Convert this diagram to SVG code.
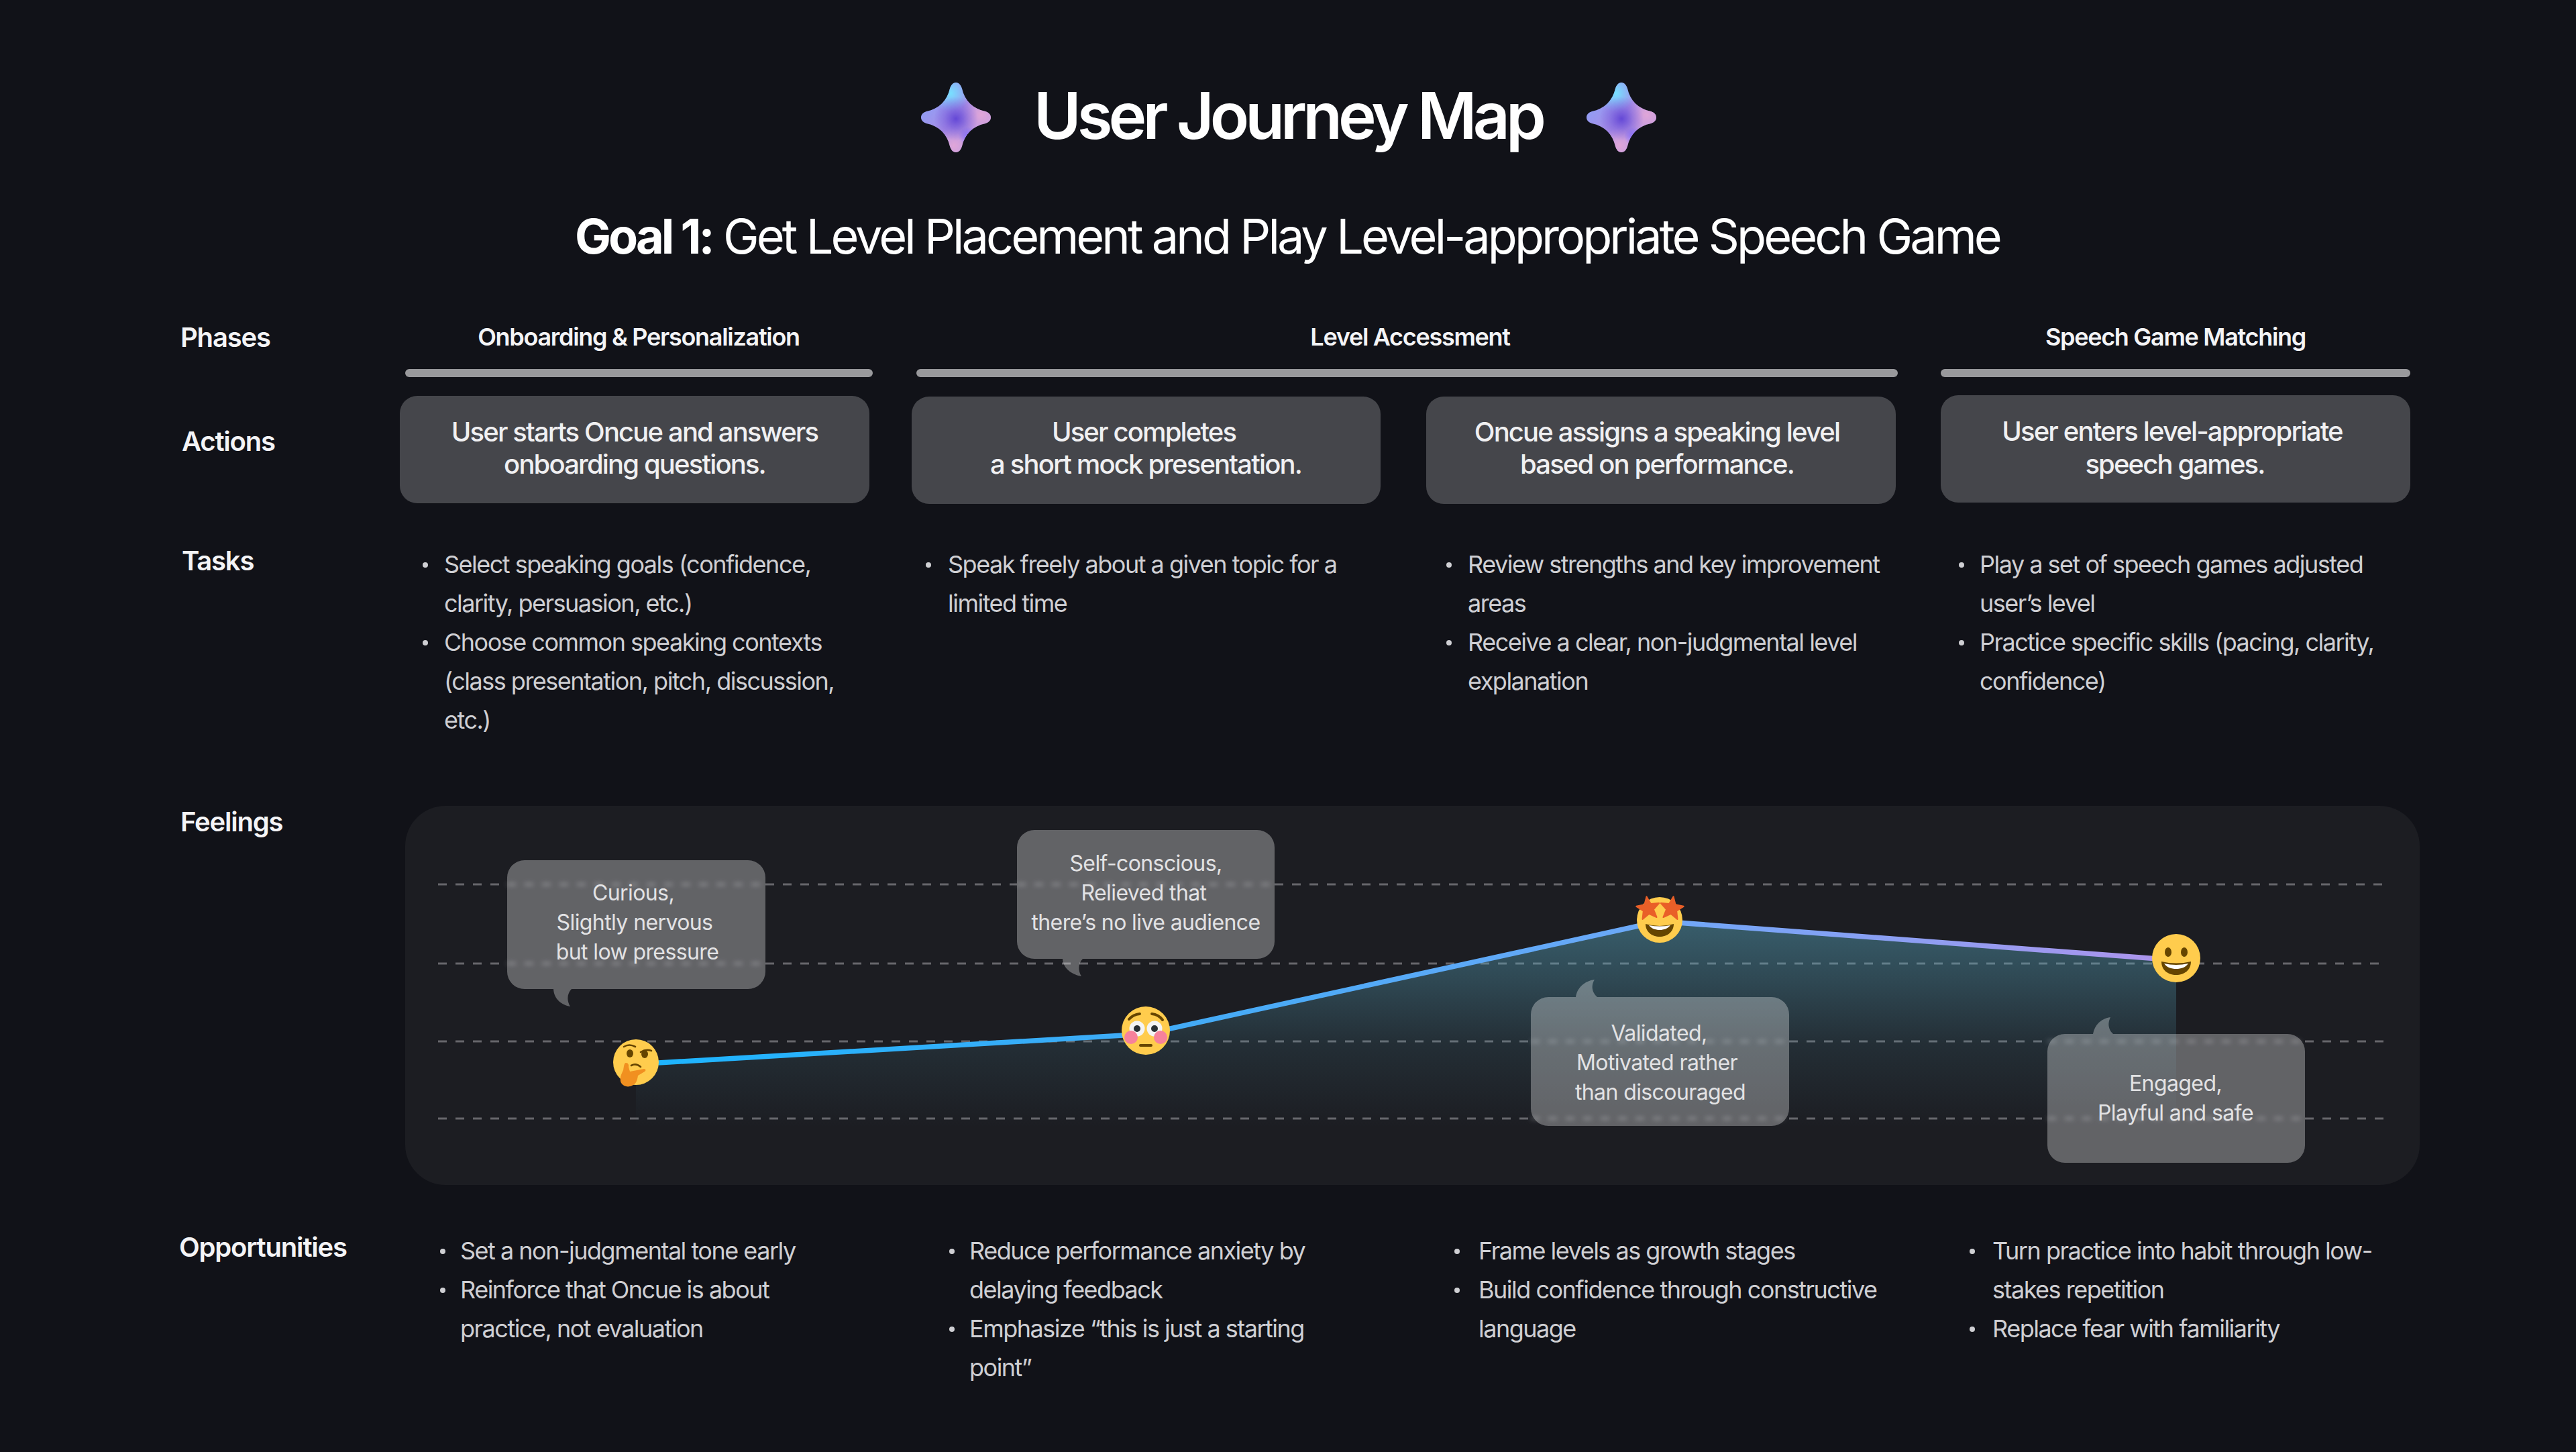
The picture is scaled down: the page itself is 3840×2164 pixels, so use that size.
<svg xmlns="http://www.w3.org/2000/svg" width="3840" height="2164" viewBox="0 0 3840 2164">
<style>
text{font-family:Inter,"Noto Sans","Liberation Sans",sans-serif}
.title{font-size:96px;font-weight:600;fill:#fff;letter-spacing:-5.9px}
.goal{font-size:72px;font-weight:400;fill:#fff;letter-spacing:-3.95px}
.goal .b{font-weight:700}
.label{font-size:40px;font-weight:600;fill:#f4f4f6;letter-spacing:-1.2px}
.phase{font-size:36px;font-weight:600;fill:#f4f4f6;text-anchor:middle;letter-spacing:-1.3px}
.act{font-size:40px;font-weight:500;fill:#f0f0f2;text-anchor:middle;letter-spacing:-1.85px}
.task{font-size:36px;font-weight:400;fill:#cfcfd3;letter-spacing:-1.5px}
.dot{fill:#cfcfd3}
.bub{font-size:32px;font-weight:400;fill:#e2e2e4;text-anchor:middle;letter-spacing:-.6px}
.bar{fill:#99999c}
.box{fill:#45464b}
.bubble{fill:#fff;fill-opacity:.31}
.dash{stroke:#66666b;stroke-width:3;stroke-dasharray:13 13;fill:none}
.blurdash{stroke:#6c6c71;stroke-width:3;stroke-dasharray:13 13;fill:none;filter:url(#soft)}
.face{fill:#FFCC4D}
.ink{fill:#664500}
.inkl{fill:none;stroke:#664500;stroke-linecap:round}
</style>
<defs>
<linearGradient id="lineg" gradientUnits="userSpaceOnUse" x1="948" y1="0" x2="3244" y2="0"><stop offset="0" stop-color="#1cb5ff"/><stop offset=".33" stop-color="#3fabf6"/><stop offset=".66" stop-color="#6da8f8"/><stop offset="1" stop-color="#ae94ec"/></linearGradient>
<linearGradient id="areag" gradientUnits="userSpaceOnUse" x1="0" y1="1370" x2="0" y2="1680"><stop offset="0" stop-color="#5aabc4" stop-opacity=".46"/><stop offset=".3" stop-color="#5aabc4" stop-opacity=".3"/><stop offset=".6" stop-color="#5aabc4" stop-opacity=".12"/><stop offset="1" stop-color="#5aabc4" stop-opacity="0"/></linearGradient>
<filter id="soft" x="-5%" y="-2000%" width="110%" height="4100%"><feGaussianBlur stdDeviation="3.500"/></filter>
<path id="starshape" d="M0 -52C4.500 -52 7.500 -48 9 -43C13 -25 25 -13 44 -9C49 -7.500 52 -4 52 0C52 4 49 7.500 44 9C25 13 13 25 9 43C7.500 48 4.500 52 0 52C-4.500 52 -7.500 48 -9 43C-13 25 -25 13 -44 9C-49 7.500 -52 4 -52 0C-52 -4 -49 -7.500 -44 -9C-25 -13 -13 -25 -9 -43C-7.500 -48 -4.500 -52 0 -52Z"/>
<clipPath id="starclip"><use href="#starshape"/></clipPath>
<linearGradient id="s0" x1="0" y1="0" x2="1" y2="1"><stop offset="0" stop-color="#7fa8ff"/><stop offset=".5" stop-color="#a98ee6"/><stop offset="1" stop-color="#d7a9e0"/></linearGradient>
<radialGradient id="s1"><stop offset="0" stop-color="#6448d6"/><stop offset=".55" stop-color="#6a4fd8" stop-opacity=".4"/><stop offset="1" stop-color="#6a4fd8" stop-opacity="0"/></radialGradient>
<radialGradient id="s2"><stop offset="0" stop-color="#78e0ff"/><stop offset="1" stop-color="#78e0ff" stop-opacity="0"/></radialGradient>
<radialGradient id="s3"><stop offset="0" stop-color="#8a72ff"/><stop offset="1" stop-color="#8a72ff" stop-opacity="0"/></radialGradient>
<radialGradient id="s4"><stop offset="0" stop-color="#e0a6d8"/><stop offset="1" stop-color="#e0a6d8" stop-opacity="0"/></radialGradient>
<g id="sparkle">
<use href="#starshape" fill="url(#s0)"/>
<g clip-path="url(#starclip)">
<circle cx="38" cy="-4" r="30" fill="url(#s4)"/>
<circle cx="-3" cy="42" r="26" fill="url(#s4)"/>
<circle cx="-8" cy="-36" r="28" fill="url(#s2)"/>
<circle cx="18" cy="28" r="14" fill="url(#s3)"/>
<circle cx="0" cy="2" r="33" fill="url(#s1)"/>
</g>
</g>
<polygon id="est" fill="#E95F28" stroke="#E95F28" stroke-width="2" stroke-linejoin="round" points="0,-18 4.700,-6.500 17.100,-5.600 7.600,2.500 10.600,14.600 0,8 -10.600,14.600 -7.600,2.500 -17.100,-5.600 -4.700,-6.500"/>
</defs>
<rect width="3840" height="2164" fill="#111218"/>

<g id="header">
<use href="#sparkle" x="1425" y="175"/>
<use href="#sparkle" x="2417" y="175"/>
<text class="title" x="1541" y="207">User Journey Map</text>
<text class="goal" x="857" y="378"><tspan class="b">Goal 1:</tspan> Get Level Placement and Play Level-appropriate Speech Game</text>
</g>

<g id="row-labels">
<text class="label" x="269" y="517">Phases</text>
<text class="label" x="271" y="672">Actions</text>
<text class="label" x="271" y="850">Tasks</text>
<text class="label" x="269" y="1239">Feelings</text>
<text class="label" x="267" y="1873">Opportunities</text>
</g>

<g id="phases">
<g id="phase-1"><text class="phase" x="952" y="515">Onboarding &amp; Personalization</text><rect class="bar" x="604" y="550" width="697" height="12" rx="6"/></g>
<g id="phase-2"><text class="phase" x="2102" y="515">Level Accessment</text><rect class="bar" x="1366" y="550" width="1463" height="12" rx="6"/></g>
<g id="phase-3"><text class="phase" x="3243" y="515">Speech Game Matching</text><rect class="bar" x="2893" y="550" width="700" height="12" rx="6"/></g>
</g>

<g id="actions">
<g id="action-1"><rect class="box" x="596" y="590" width="700" height="160" rx="26"/><text class="act" x="946" y="658">User starts Oncue and answers</text><text class="act" x="946" y="706">onboarding questions.</text></g>
<g id="action-2"><rect class="box" x="1359" y="591" width="699" height="160" rx="26"/><text class="act" x="1705" y="658">User completes</text><text class="act" x="1708" y="706">a short mock presentation.</text></g>
<g id="action-3"><rect class="box" x="2126" y="591" width="700" height="160" rx="26"/><text class="act" x="2470" y="658">Oncue assigns a speaking level</text><text class="act" x="2470" y="706">based on performance.</text></g>
<g id="action-4"><rect class="box" x="2893" y="589" width="700" height="160" rx="26"/><text class="act" x="3238" y="657">User enters level-appropriate</text><text class="act" x="3242" y="706">speech games.</text></g>
</g>

<g id="tasks">
<g id="tasks-1">
<circle class="dot" cx="634" cy="842" r="4"/><circle class="dot" cx="634" cy="958" r="4"/>
<text class="task" x="662" y="854">Select speaking goals (confidence,</text>
<text class="task" x="662" y="912">clarity, persuasion, etc.)</text>
<text class="task" x="662" y="970">Choose common speaking contexts</text>
<text class="task" x="662" y="1028">(class presentation, pitch, discussion,</text>
<text class="task" x="662" y="1086">etc.)</text>
</g>
<g id="tasks-2">
<circle class="dot" cx="1384" cy="842" r="4"/>
<text class="task" x="1413" y="854">Speak freely about a given topic for a</text>
<text class="task" x="1413" y="912">limited time</text>
</g>
<g id="tasks-3">
<circle class="dot" cx="2160" cy="842" r="4"/><circle class="dot" cx="2160" cy="958" r="4"/>
<text class="task" x="2188" y="854">Review strengths and key improvement</text>
<text class="task" x="2188" y="912">areas</text>
<text class="task" x="2188" y="970">Receive a clear, non-judgmental level</text>
<text class="task" x="2188" y="1028">explanation</text>
</g>
<g id="tasks-4">
<circle class="dot" cx="2924" cy="842" r="4"/><circle class="dot" cx="2924" cy="958" r="4"/>
<text class="task" x="2951" y="854">Play a set of speech games adjusted</text>
<text class="task" x="2951" y="912">user’s level</text>
<text class="task" x="2951" y="970">Practice specific skills (pacing, clarity,</text>
<text class="task" x="2951" y="1028">confidence)</text>
</g>
</g>

<g id="feelings-panel">
<rect x="604" y="1201" width="3003" height="565" rx="60" fill="#1c1d22"/>
<path class="dash" d="M653 1318H756M1141 1318H1516M1900 1318H3555"/>
<path class="dash" d="M653 1436H756M1141 1436H3555"/>
<path class="dash" d="M653 1552H2282M2667 1552H3052M3436 1552H3555"/>
<path class="dash" d="M653 1667H2282M2667 1667H3052M3436 1667H3555"/>
<path class="blurdash" d="M756 1318H1141M1516 1318H1900M756 1436H1141M2282 1552H2667M3052 1552H3436M2282 1667H2667M3052 1667H3436"/>
<path d="M948 1586L1708 1541L2474 1373L3244 1431V1700H948Z" fill="url(#areag)"/>
</g>

<g id="connectors">
<path d="M948 1586L1708 1541L2474 1373L3244 1431" fill="none" stroke="url(#lineg)" stroke-width="7.500" stroke-linejoin="round"/>
</g>

<g id="emoji-thinking" transform="translate(948 1583)">
<circle class="face" r="34"/>
<path class="inkl" stroke-width="2.600" d="M-18 -23Q-10 -28 -1 -23M7 -15Q15 -20 23 -17M-7 5Q0 1 7 7"/>
<ellipse class="ink" cx="-9" cy="-13" rx="5" ry="6"/><ellipse class="ink" cx="13" cy="-12" rx="5" ry="6"/>
<path fill="#F19020" d="M-15 1C-12 1 -10 4 -11 7L-9 14L12 10C15 10 15 13 13 14L3 20C2 27 0 33 -6 35C-12 38 -19 36 -22 31C-25 25 -22 18 -19 12C-18 8 -18 1 -15 1Z"/>
</g>
<g id="emoji-flushed" transform="translate(1708 1536)">
<circle class="face" r="36"/>
<path class="inkl" stroke-width="4" d="M-25 -17Q-19 -24 -9 -25M9 -25Q19 -24 25 -16"/>
<circle cx="-13" cy="-3" r="11.500" fill="#f4f4f4"/><circle cx="13" cy="-3" r="11.500" fill="#f4f4f4"/>
<circle cx="-13" cy="-3" r="5" fill="#292f33"/><circle cx="13" cy="-3" r="5" fill="#292f33"/>
<circle cx="-22" cy="10" r="10" fill="#f7819b"/><circle cx="22" cy="10" r="10" fill="#f7819b"/>
<rect class="ink" x="-10" y="20" width="20" height="4" rx="2"/>
</g>
<g id="emoji-star-struck" transform="translate(2474 1371)">
<circle class="face" r="34"/>
<use href="#est" transform="translate(-17 -17) rotate(-8)"/>
<use href="#est" transform="translate(18 -17) rotate(8)"/>
<path class="ink" d="M-21 6Q0 12 21 6C21 18 11 25 0 25C-11 25 -21 18 -21 6Z"/>
<path fill="#fff" d="M-16 8Q0 11 16 8C12 13 6 15 0 15C-6 15 -12 13 -16 8Z"/>
</g>
<g id="emoji-grin" transform="translate(3244 1428)">
<circle class="face" r="36"/>
<ellipse class="ink" cx="-12" cy="-9" rx="5" ry="7"/><ellipse class="ink" cx="12" cy="-9" rx="5" ry="7"/>
<path class="ink" d="M-22 5Q0 10 22 5C22 18 12 25 0 25C-12 25 -22 18 -22 5Z"/>
<path fill="#fff" d="M-18 8Q0 12 18 8C14 14 7 16 0 16C-7 16 -14 14 -18 8Z"/>
</g>

<g id="bubble-1">
<path class="bubble" d="M782 1282H1115A26 26 0 0 1 1141 1308V1448A26 26 0 0 1 1115 1474H852C846 1480 844 1490 850 1500C838 1498 826 1490 825 1474H782A26 26 0 0 1 756 1448V1308A26 26 0 0 1 782 1282Z"/>
<text class="bub" x="944" y="1342">Curious,</text><text class="bub" x="946" y="1386">Slightly nervous</text><text class="bub" x="950" y="1430">but low pressure</text>
</g>
<g id="bubble-2">
<path class="bubble" d="M1542 1237H1874A26 26 0 0 1 1900 1263V1403A26 26 0 0 1 1874 1429H1614C1608 1435 1606 1445 1612 1455C1600 1453 1585 1445 1584 1429H1542A26 26 0 0 1 1516 1403V1263A26 26 0 0 1 1542 1237Z"/>
<text class="bub" x="1708" y="1298">Self-conscious,</text><text class="bub" x="1705" y="1342">Relieved that</text><text class="bub" x="1708" y="1386">there’s no live audience</text>
</g>
<g id="bubble-3">
<path class="bubble" d="M2308 1486H2349C2351 1472 2362 1462 2377 1460C2372 1468 2372 1478 2381 1486H2641A26 26 0 0 1 2667 1512V1652A26 26 0 0 1 2641 1678H2308A26 26 0 0 1 2282 1652V1512A26 26 0 0 1 2308 1486Z"/>
<text class="bub" x="2473" y="1551">Validated,</text><text class="bub" x="2470" y="1595">Motivated rather</text><text class="bub" x="2475" y="1639">than discouraged</text>
</g>
<g id="bubble-4">
<path class="bubble" d="M3078 1541H3120C3122 1528 3132 1518 3146 1516C3142 1524 3142 1534 3150 1541H3410A26 26 0 0 1 3436 1567V1707A26 26 0 0 1 3410 1733H3078A26 26 0 0 1 3052 1707V1567A26 26 0 0 1 3078 1541Z"/>
<text class="bub" x="3243" y="1626">Engaged,</text><text class="bub" x="3243" y="1670">Playful and safe</text>
</g>

<g id="opportunities">
<g id="opp-1">
<circle class="dot" cx="660" cy="1865" r="4"/><circle class="dot" cx="660" cy="1923" r="4"/>
<text class="task" x="686" y="1877">Set a non-judgmental tone early</text>
<text class="task" x="686" y="1935">Reinforce that Oncue is about</text>
<text class="task" x="686" y="1993">practice, not evaluation</text>
</g>
<g id="opp-2">
<circle class="dot" cx="1419" cy="1865" r="4"/><circle class="dot" cx="1419" cy="1981" r="4"/>
<text class="task" x="1445" y="1877">Reduce performance anxiety by</text>
<text class="task" x="1445" y="1935">delaying feedback</text>
<text class="task" x="1445" y="1993">Emphasize “this is just a starting</text>
<text class="task" x="1445" y="2051">point”</text>
</g>
<g id="opp-3">
<circle class="dot" cx="2172" cy="1865" r="4"/><circle class="dot" cx="2172" cy="1923" r="4"/>
<text class="task" x="2204" y="1877">Frame levels as growth stages</text>
<text class="task" x="2204" y="1935">Build confidence through constructive</text>
<text class="task" x="2204" y="1993">language</text>
</g>
<g id="opp-4">
<circle class="dot" cx="2940" cy="1865" r="4"/><circle class="dot" cx="2940" cy="1981" r="4"/>
<text class="task" x="2970" y="1877">Turn practice into habit through low-</text>
<text class="task" x="2970" y="1935">stakes repetition</text>
<text class="task" x="2970" y="1993">Replace fear with familiarity</text>
</g>
</g>
</svg>
